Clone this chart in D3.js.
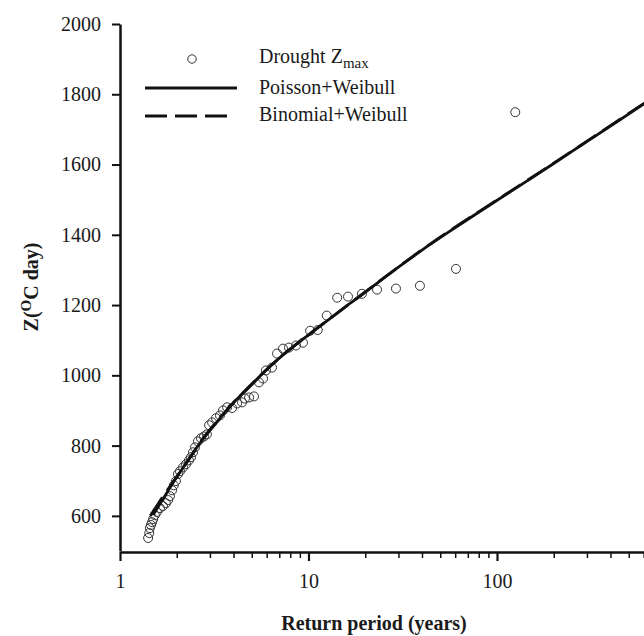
<!DOCTYPE html>
<html>
<head>
<meta charset="utf-8">
<script src="https://cdn.jsdelivr.net/npm/d3@7"></script>
<style>
  body { margin: 0; background: #fff; }
</style>
</head>
<body>
<svg id="chart"></svg>
<script>
// observed drought maxima: return period (years) and Z (oC day)
const obsReturnPeriod = [1.41, 1.43, 1.44, 1.46, 1.48, 1.50, 1.53, 1.57, 1.63, 1.69,
  1.75, 1.80, 1.84, 1.89, 1.93, 1.98, 2.03, 2.08, 2.16, 2.24,
  2.32, 2.38, 2.44, 2.50, 2.59, 2.69, 2.79, 2.89, 2.97, 3.08,
  3.23, 3.39, 3.52, 3.70, 3.93, 4.18, 4.44, 4.60, 4.84, 5.14,
  5.46, 5.74, 5.95, 6.40, 6.81, 7.32, 7.88, 8.59, 9.35, 10.2,
  11.2, 12.5, 14.2, 16.2, 19.2, 23.1, 29.1, 39.0, 60.6, 125];
const obsZmax = [537, 551, 565, 574, 582, 591, 602, 611, 622, 628,
  636, 645, 656, 673, 687, 699, 719, 727, 738, 747,
  758, 767, 781, 795, 812, 821, 826, 832, 858, 866,
  878, 886, 900, 909, 907, 920, 923, 934, 937, 940,
  980, 991, 1014, 1022, 1062, 1076, 1079, 1085, 1093, 1127,
  1129, 1170, 1221, 1224, 1232, 1244, 1247, 1255, 1303, 1749];

// fitted curves
const poissonT = [1.5, 1.7, 1.9, 2.24, 2.75, 3.4, 3.8, 4.8, 5.75, 7.1, 8.7, 10.7, 12.9, 15.8,
  19.5, 24, 29.5, 36.3, 44, 54, 66, 83, 112, 148, 200, 251, 309, 398, 501, 603, 700];
const poissonZ = [603, 650, 692, 750, 818, 878, 909, 964, 1007, 1052, 1090, 1127, 1160, 1196,
  1232, 1269, 1305, 1340, 1372, 1404, 1435, 1470, 1515, 1557, 1603, 1638, 1670, 1709, 1744, 1773, 1797];
const binomialT = [1.45, 1.6, 1.8, 2.0, 2.3, 2.75, 3.4, 4.8, 7.1, 10.7, 19.5, 44, 112, 200, 398, 603, 700];
const binomialZ = [600, 636, 676, 712, 758, 820, 880, 966, 1052, 1127, 1233, 1373, 1516, 1604, 1710, 1774, 1796];

const yTicks = [600, 800, 1000, 1200, 1400, 1600, 1800, 2000];
const xMajorTicks = [1, 10, 100, 1000];
const xTickLabels = [1, 10, 100];
const legendLabels = ["Drought Z", "Poisson+Weibull", "Binomial+Weibull"];

const serif = '"Liberation Serif", "Times New Roman", "DejaVu Serif", serif';
const width = 644, height = 636;
const svg = d3.select("#chart").attr("width", width).attr("height", height);

const x = d3.scaleLog().domain([1, 1000]).range([120, 685.5]);
const y = d3.scaleLinear().domain([500, 2000]).range([551, 24]);

// x axis with major / minor ticks
const xAxis = svg.append("g")
  .attr("transform", "translate(0,552)")
  .call(d3.axisBottom(x)
    .tickValues(x.ticks())
    .tickSizeInner(9)
    .tickSizeOuter(0)
    .tickPadding(13)
    .tickFormat(d => xTickLabels.includes(d) ? d3.format("d")(d) : ""));
xAxis.select(".domain").attr("stroke", "#111").attr("stroke-width", 2.5);
xAxis.selectAll(".tick line")
  .attr("stroke", "#111")
  .attr("y2", d => xMajorTicks.includes(d) ? 9 : 6)
  .attr("stroke-width", d => xMajorTicks.includes(d) ? 2.2 : 1.5);
xAxis.selectAll(".tick text")
  .style("font-family", serif)
  .attr("font-size", 20)
  .attr("fill", "#1a1a1a");

// y axis
const yAxis = svg.append("g")
  .attr("transform", "translate(120,0)")
  .call(d3.axisLeft(y)
    .tickValues(yTicks)
    .tickSizeInner(8)
    .tickSizeOuter(0)
    .tickPadding(11)
    .tickFormat(d3.format("d")));
yAxis.select(".domain").attr("stroke", "#111").attr("stroke-width", 2.5);
yAxis.selectAll(".tick line").attr("stroke", "#111").attr("stroke-width", 2);
yAxis.selectAll(".tick text")
  .style("font-family", serif)
  .attr("font-size", 20)
  .attr("fill", "#1a1a1a");

// observed points
const obs = obsReturnPeriod.map((t, i) => ({ t: t, z: obsZmax[i] }));
svg.append("g").selectAll("circle")
  .data(obs)
  .join("circle")
  .attr("cx", d => x(d.t))
  .attr("cy", d => y(d.z))
  .attr("r", 4.5)
  .attr("fill", "none")
  .attr("stroke", "#333")
  .attr("stroke-width", 1);

const line = d3.line()
  .x(d => x(d[0]))
  .y(d => y(d[1]))
  .curve(d3.curveMonotoneX);

svg.append("path")
  .datum(binomialT.map((t, i) => [t, binomialZ[i]]))
  .attr("fill", "none")
  .attr("stroke", "#111")
  .attr("stroke-width", 2.8)
  .attr("stroke-dasharray", "22,8")
  .attr("d", line);

svg.append("path")
  .datum(poissonT.map((t, i) => [t, poissonZ[i]]))
  .attr("fill", "none")
  .attr("stroke", "#111")
  .attr("stroke-width", 2.8)
  .attr("d", line);

// legend
const legend = svg.append("g");
legend.append("circle")
  .attr("cx", 192).attr("cy", 59).attr("r", 4.2)
  .attr("fill", "none").attr("stroke", "#333").attr("stroke-width", 1);
legend.append("line")
  .attr("x1", 145).attr("x2", 237).attr("y1", 88).attr("y2", 88)
  .attr("stroke", "#111").attr("stroke-width", 2.8);
legend.append("line")
  .attr("x1", 145).attr("x2", 227).attr("y1", 116).attr("y2", 116)
  .attr("stroke", "#111").attr("stroke-width", 2.8)
  .attr("stroke-dasharray", "22,8");

const t0 = legend.append("text").attr("x", 259).attr("y", 63);
t0.append("tspan").text(legendLabels[0]);
t0.append("tspan").attr("dy", 5).attr("font-size", 15).text("max");
legend.append("text").attr("x", 259).attr("y", 94).text(legendLabels[1]);
legend.append("text").attr("x", 259).attr("y", 121).text(legendLabels[2]);
legend.selectAll("text")
  .style("font-family", serif)
  .attr("font-size", 20)
  .attr("fill", "#1a1a1a");
legend.selectAll("tspan").filter((d, i, n) => n[i].textContent === "max").attr("font-size", 15);

// axis titles
svg.append("text")
  .attr("x", 374).attr("y", 630)
  .attr("text-anchor", "middle")
  .style("font-family", serif)
  .attr("font-size", 20)
  .attr("font-weight", "bold")
  .attr("fill", "#1a1a1a")
  .text("Return period (years)");

const yTitle = svg.append("text")
  .attr("transform", "translate(38,287) rotate(-90)")
  .attr("text-anchor", "middle")
  .style("font-family", serif)
  .attr("font-size", 20)
  .attr("font-weight", "bold")
  .attr("fill", "#1a1a1a");
yTitle.append("tspan").text("Z(");
yTitle.append("tspan").attr("dy", -7).attr("font-size", 15).text("O");
yTitle.append("tspan").attr("dy", 7).text("C day)");
</script>
</body>
</html>
